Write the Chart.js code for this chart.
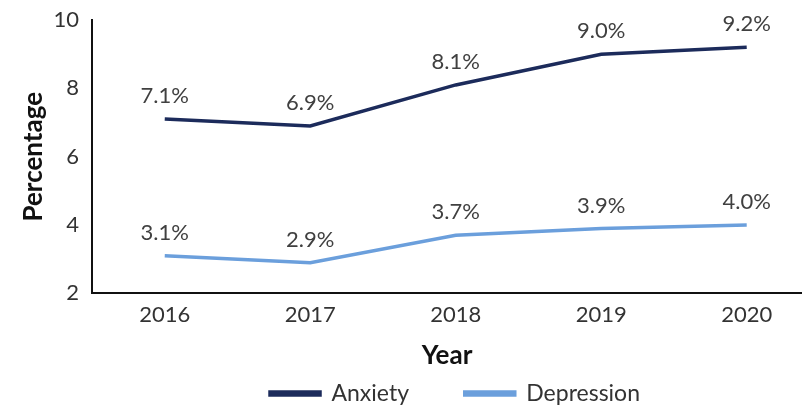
<!DOCTYPE html>
<html lang="en">
<head>
  <meta charset="UTF-8">
  <script src="https://cdn.jsdelivr.net/npm/chart.js"></script>
  <title>Anxiety and Depression</title>
  <style>
    html, body { margin: 0; padding: 0; background: #fff; }
    #wrap { width: 802px; height: 407px; }
  </style>
</head>
<body>
<div id="wrap"><canvas id="lineChart"></canvas></div>
<script>
  const years = [2016, 2017, 2018, 2019, 2020];
  const anxiety = [7.1, 6.9, 8.1, 9.0, 9.2];
  const depression = [3.1, 2.9, 3.7, 3.9, 4.0];
  const yTicks = [2, 4, 6, 8, 10];

  const fontFamily = 'Lato, "Open Sans", sans-serif';

  // labels above each point
  const pointLabels = {
    id: 'pointLabels',
    afterDatasetsDraw(chart) {
      const ctx = chart.ctx;
      ctx.save();
      ctx.font = '22px ' + fontFamily;
      ctx.fillStyle = '#404040';
      ctx.textAlign = 'center';
      ctx.textBaseline = 'middle';
      chart.data.datasets.forEach((ds, i) => {
        chart.getDatasetMeta(i).data.forEach((pt, j) => {
          ctx.fillText(ds.data[j].y.toFixed(1) + '%', pt.x, pt.y - 23);
        });
      });
      ctx.restore();
    }
  };

  // plot area in the original runs a little past the right edge, legend is centred on it
  const legendShift = {
    id: 'legendShift',
    afterLayout(chart) {
      chart.legend.left += 8;
      chart.legend.right += 8;
    }
  };

  const toPoints = vals => vals.map((v, i) => ({ x: years[i], y: v }));

  new Chart(document.getElementById('lineChart'), {
    type: 'line',
    data: {
      datasets: [
        {
          label: 'Anxiety',
          data: toPoints(anxiety),
          borderColor: '#1c2b5b',
          backgroundColor: '#1c2b5b',
          borderWidth: 3.5,
          pointRadius: 0,
          tension: 0
        },
        {
          label: 'Depression',
          data: toPoints(depression),
          borderColor: '#6b9fdc',
          backgroundColor: '#6b9fdc',
          borderWidth: 3.5,
          pointRadius: 0,
          tension: 0
        }
      ]
    },
    options: {
      responsive: true,
      maintainAspectRatio: false,
      animation: false,
      layout: { padding: { top: 20, right: 0, left: 18, bottom: -8 } },
      plugins: {
        legend: {
          position: 'bottom',
          fullSize: false,
          labels: {
            boxWidth: 50,
            boxHeight: 3,
            padding: 4,
            color: '#333',
            font: { family: fontFamily, size: 23 },
            generateLabels: chart => {
              const items = Chart.defaults.plugins.legend.labels.generateLabels(chart);
              items[0].text += '\u2003\u2003\u2003';
              return items;
            }
          }
        },
        tooltip: { enabled: false }
      },
      scales: {
        x: {
          type: 'linear',
          min: 2015.5,
          max: 2020.38,
          afterBuildTicks: axis => { axis.ticks = years.map(v => ({ value: v })); },
          grid: { display: false, drawTicks: false },
          border: { color: '#111', width: 2 },
          ticks: {
            padding: 8,
            color: '#333',
            font: { family: fontFamily, size: 22 },
            callback: v => String(v)
          },
          title: {
            display: true,
            text: 'Year',
            color: '#111',
            font: { family: fontFamily, size: 26, weight: 'bold' },
            padding: { top: 4, bottom: 7 }
          }
        },
        y: {
          min: 2,
          max: 10,
          afterBuildTicks: axis => { axis.ticks = yTicks.map(v => ({ value: v })); },
          afterFit: axis => {
            axis.width = 74;
            axis.paddingTop = 0;
            axis.paddingBottom = 0;
          },
          grid: { display: false, drawTicks: false },
          border: { color: '#111', width: 2 },
          ticks: {
            padding: 13,
            color: '#333',
            font: { family: fontFamily, size: 22 }
          },
          title: {
            display: true,
            text: 'Percentage',
            color: '#111',
            font: { family: fontFamily, size: 26, weight: 'bold' },
            padding: { top: 0, bottom: 6 }
          }
        }
      }
    },
    plugins: [pointLabels, legendShift]
  });
</script>
</body>
</html>
